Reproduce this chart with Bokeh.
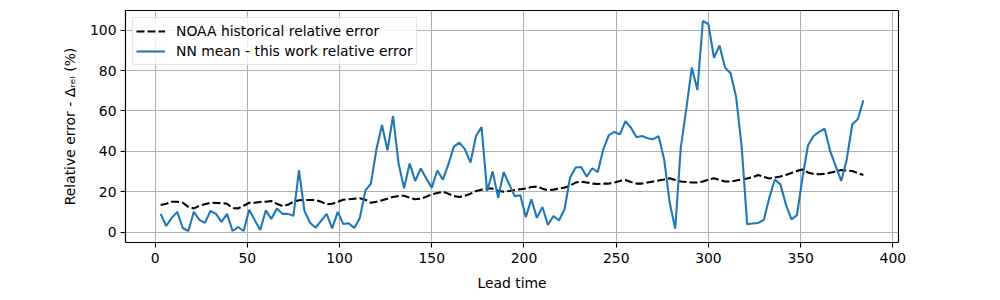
from bokeh.plotting import figure
from bokeh.models import FixedTicker, Range1d, Legend, LegendItem
from bokeh.embed import file_html
from bokeh.resources import INLINE

lead_time = list(range(3, 387, 3))

noaa_err = [13.4, 14.0, 15.0, 15.0, 14.5, 12.5, 11.7, 13.0, 13.8, 14.5,
            14.4, 14.3, 14.0, 11.8, 11.7, 13.0, 14.5, 14.5, 14.9, 15.0,
            15.4, 14.0, 12.9, 13.5, 15.0, 15.7, 15.9, 15.9, 15.9, 15.0,
            13.7, 14.0, 15.0, 16.0, 16.2, 16.5, 16.7, 16.0, 14.5, 15.0,
            15.7, 16.5, 17.4, 17.9, 18.0, 17.0, 16.2, 16.5, 17.5, 18.7,
            19.3, 20.0, 19.0, 17.8, 17.4, 18.0, 19.0, 20.3, 21.0, 21.7,
            21.5, 20.5, 20.0, 20.3, 20.8, 21.2, 21.6, 22.3, 22.5, 21.5,
            20.7, 21.0, 21.5, 22.0, 23.0, 24.5, 25.0, 24.5, 24.0, 23.8,
            24.0, 24.0, 24.5, 25.3, 25.8, 24.8, 24.0, 24.0, 24.5, 25.0,
            25.5, 26.0, 26.6, 25.8, 25.0, 24.8, 24.5, 24.5, 25.0, 26.0,
            26.6, 25.8, 25.0, 25.0, 25.5, 26.0, 26.5, 27.2, 28.3, 27.3,
            26.5, 27.0, 27.5, 28.3, 29.3, 30.3, 31.0, 29.5, 28.8, 28.6,
            28.8, 29.4, 30.0, 30.7, 30.5, 30.2, 29.2, 28.3]

nn_err = [9.0, 3.0, 7.0, 10.0, 2.0, 0.5, 10.0, 6.0, 4.5, 10.4,
          9.0, 5.0, 9.0, 0.5, 2.5, 0.5, 11.0, 6.0, 1.0, 10.7,
          6.5, 11.7, 9.0, 9.0, 8.0, 30.5, 10.4, 4.6, 2.1, 5.5,
          9.0, 1.8, 10.0, 4.0, 4.3, 2.0, 7.0, 20.5, 24.0, 41.0,
          53.0, 40.5, 57.5, 34.0, 21.7, 34.0, 25.3, 31.5, 26.6, 22.0,
          30.5, 26.0, 33.5, 42.3, 44.3, 41.0, 34.4, 47.6, 52.0, 20.3,
          30.0, 17.0, 29.7, 23.6, 17.8, 18.2, 7.4, 16.2, 7.0, 12.4,
          3.5, 7.9, 5.8, 11.3, 27.0, 32.0, 32.2, 27.4, 31.6, 29.7,
          41.0, 48.0, 49.6, 48.4, 55.0, 51.7, 47.0, 47.6, 46.5, 46.0,
          47.5, 36.0, 14.5, 1.6, 41.8, 61.0, 81.5, 70.4, 104.6, 103.0,
          86.4, 92.5, 81.5, 78.7, 67.0, 42.6, 3.8, 4.2, 4.5, 6.0,
          17.0, 26.0, 23.6, 13.7, 6.3, 8.4, 27.0, 43.0, 47.6, 49.6,
          51.2, 40.2, 32.7, 25.3, 36.0, 53.4, 55.9, 65.3]

x_ticks = [0, 50, 100, 150, 200, 250, 300, 350, 400]
y_ticks = [0, 20, 40, 60, 80, 100]

FONT = "DejaVu Sans"
FS = "13.9px"

p = figure(width=1000, height=300, output_backend="svg", toolbar_location=None,
           x_range=Range1d(-16.05, 403.05), y_range=Range1d(-5.2, 109.8),
           min_border_left=125, min_border_right=102, min_border_top=10,
           min_border_bottom=58)

p.background_fill_color = "white"
p.border_fill_color = "white"
p.outline_line_color = "black"
p.outline_line_width = 1.1
p.outline_line_alpha = 1

for g in (p.xgrid, p.ygrid):
    g.grid_line_color = "#b0b0b0"
    g.grid_line_width = 1.1

p.xaxis.ticker = FixedTicker(ticks=x_ticks)
p.yaxis.ticker = FixedTicker(ticks=y_ticks)
p.xgrid.ticker = FixedTicker(ticks=x_ticks)
p.ygrid.ticker = FixedTicker(ticks=y_ticks)

for ax in (p.xaxis, p.yaxis):
    ax.axis_line_color = "black"
    ax.axis_line_width = 1.1
    ax.major_tick_line_color = "black"
    ax.major_tick_line_width = 1.1
    ax.major_tick_out = 5
    ax.major_tick_in = 0
    ax.minor_tick_line_color = None
    ax.major_label_text_font = FONT
    ax.major_label_text_font_size = FS
    ax.major_label_text_color = "black"
    ax.axis_label_text_font = FONT
    ax.axis_label_text_font_size = FS
    ax.axis_label_text_font_style = "normal"
    ax.axis_label_text_color = "black"

p.xaxis.major_label_standoff = 5
p.yaxis.major_label_standoff = 4
p.xaxis.axis_label = "Lead time"
p.yaxis.axis_label = "Relative error - \u0394\u1d63\u2091\u2097 (%)"
p.xaxis.axis_label_standoff = 9
p.yaxis.axis_label_standoff = 9

r_noaa = p.line(lead_time, noaa_err, line_color="black", line_width=2.08,
                line_dash="8 3")
r_nn = p.line(lead_time, nn_err, line_color="#1f77b4", line_width=2.08)

legend = Legend(items=[
    LegendItem(label="NOAA historical relative error", renderers=[r_noaa]),
    LegendItem(label="NN mean - this work relative error", renderers=[r_nn]),
], location="top_left")
legend.margin = 7
legend.padding = 3
legend.spacing = 0
legend.label_height = 20
legend.glyph_height = 20
legend.glyph_width = 29
legend.label_standoff = 11
legend.label_text_font = FONT
legend.label_text_font_size = FS
legend.label_text_color = "black"
legend.border_line_color = "#cccccc"
legend.border_line_width = 1
legend.background_fill_color = "white"
legend.background_fill_alpha = 0.8
p.add_layout(legend, "center")

open("out.html", "w").write(file_html(p, INLINE))
